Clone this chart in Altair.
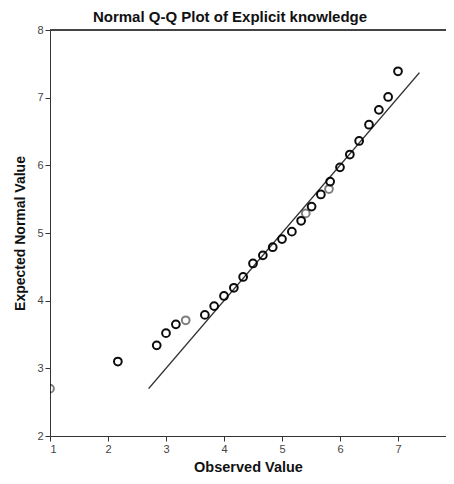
import altair as alt
import pandas as pd

observed = [1.0, 2.17, 2.84, 3.0, 3.17, 3.34, 3.67, 3.83, 4.0, 4.17, 4.33, 4.5, 4.67,
            4.84, 5.0, 5.17, 5.33, 5.41, 5.51, 5.67, 5.81, 5.83, 6.0, 6.17, 6.33,
            6.5, 6.67, 6.83, 7.0]
expected = [2.70, 3.10, 3.34, 3.52, 3.65, 3.71, 3.79, 3.92, 4.07, 4.19, 4.35, 4.55, 4.67,
            4.79, 4.91, 5.02, 5.18, 5.29, 5.39, 5.57, 5.65, 5.76, 5.97, 6.16, 6.36,
            6.60, 6.82, 7.01, 7.39]
# number of cases per marker (overlapping markers appear darker)
cases = [1, 2, 2, 2, 2, 1, 2, 2, 2, 2, 2, 2, 2,
         2, 2, 2, 2, 1, 2, 2, 1, 2, 2, 2, 2,
         2, 2, 2, 2]

# Reference line y = x
line_x = [2.70, 7.37]

x_ticks = [1, 2, 3, 4, 5, 6, 7, 8]
y_ticks = [2, 3, 4, 5, 6, 7, 8]

FONT = "Liberation Sans"
W = 396
H = 406

pts = pd.DataFrame({"observed": observed, "expected": expected, "cases": cases})
ref = pd.DataFrame({"observed": line_x, "expected": line_x})

# the visible part of the x range (the reference is cropped just before x = 8)
xscale = alt.Scale(domain=[1, 1 + W / 58.0], nice=False, zero=False)
yscale = alt.Scale(domain=[2, 8], nice=False, zero=False)

xaxis = alt.Axis(values=x_ticks, format="d", grid=False, title="Observed Value", tickSize=5,
                 labelFontSize=11, labelFont=FONT, labelColor="#444", tickColor="#333",
                 domainColor="#333", labelPadding=2, titleFont=FONT, titleFontSize=14.5,
                 titleFontWeight="bold", titleColor="#111", titlePadding=6)
yaxis = alt.Axis(values=y_ticks, format="d", grid=False, title="Expected Normal Value",
                 tickSize=5, labelFontSize=11, labelFont=FONT, labelColor="#444",
                 tickColor="#333", domainColor="#333", labelPadding=2, titleFont=FONT,
                 titleFontSize=14, titleFontWeight="bold", titleColor="#111",
                 titlePadding=9)

line = alt.Chart(ref).mark_line(color="#333", strokeWidth=1.5).encode(
    x=alt.X("observed:Q", scale=xscale, axis=xaxis),
    y=alt.Y("expected:Q", scale=yscale, axis=yaxis),
)

points = alt.Chart(pts).mark_point(shape="circle", filled=False, size=60,
                                   strokeWidth=2, color="#000", clip=True).encode(
    x=alt.X("observed:Q", scale=xscale),
    y=alt.Y("expected:Q", scale=yscale),
    opacity=alt.Opacity("cases:Q", scale=alt.Scale(domain=[1, 2], range=[0.5, 0.95]),
                        legend=None),
)

# top frame line of the plot area
frame = alt.Chart(pts).mark_rule(color="#444", strokeWidth=1).encode(
    y=alt.value(0), x=alt.value(0), x2=alt.value(W)
)

chart = (line + points + frame).properties(
    width=W,
    height=H,
    autosize=alt.AutoSizeParams(type="none"),
    padding={"left": 42, "top": 22, "right": 0, "bottom": 40},
    title=alt.TitleParams("Normal Q-Q Plot of Explicit knowledge", font=FONT, fontSize=15,
                          fontWeight="bold", color="#111", anchor="middle", dx=-18,
                          offset=-1),
).configure_view(fill="#F0F0F0", stroke=None).configure(
    background="white"
)

chart.save("out.html", embed_options={"renderer": "svg", "actions": False})
